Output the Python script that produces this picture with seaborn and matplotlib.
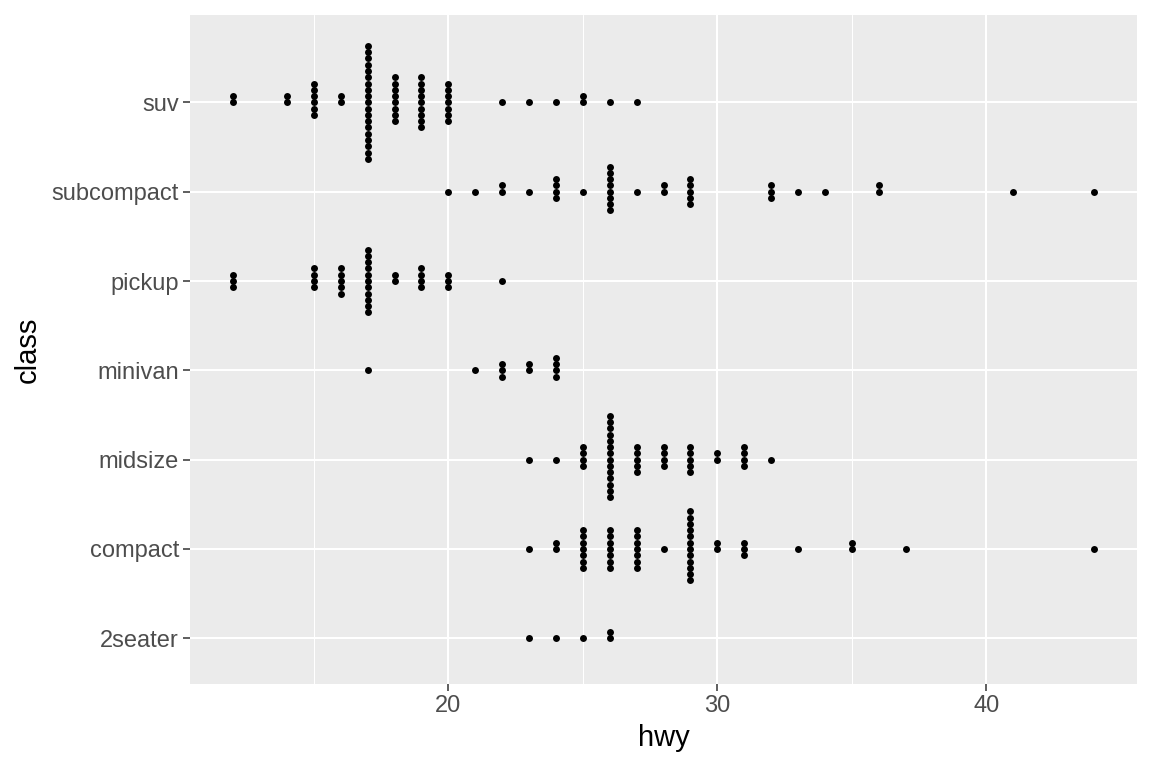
import numpy as np
import pandas as pd
import matplotlib
matplotlib.use("Agg")
import matplotlib.pyplot as plt
import seaborn as sns

# classes, bottom to top
classes = ["2seater", "compact", "midsize", "minivan", "pickup", "subcompact", "suv"]

# hwy values and how many cars sit at each value, per class
hwy_2seater = [23, 24, 25, 26]
cnt_2seater = [1, 1, 1, 2]

hwy_compact = [23, 24, 25, 26, 27, 28, 29, 30, 31, 33, 35, 37, 44]
cnt_compact = [1, 2, 7, 7, 7, 1, 12, 2, 3, 1, 2, 1, 1]

hwy_midsize = [23, 24, 25, 26, 27, 28, 29, 30, 31, 32]
cnt_midsize = [1, 1, 4, 14, 5, 4, 5, 2, 4, 1]

hwy_minivan = [17, 21, 22, 23, 24]
cnt_minivan = [1, 1, 3, 2, 4]

hwy_pickup = [12, 15, 16, 17, 18, 19, 20, 22]
cnt_pickup = [3, 4, 5, 11, 2, 4, 3, 1]

hwy_subcompact = [20, 21, 22, 23, 24, 25, 26, 27, 28, 29, 32, 33, 34, 36, 41, 44]
cnt_subcompact = [1, 1, 2, 1, 4, 1, 8, 1, 2, 5, 3, 1, 1, 2, 1, 1]

hwy_suv = [12, 14, 15, 16, 17, 18, 19, 20, 22, 23, 24, 25, 26, 27]
cnt_suv = [2, 2, 6, 2, 19, 8, 9, 7, 1, 1, 1, 2, 1, 1]

data = {
    "2seater": (hwy_2seater, cnt_2seater),
    "compact": (hwy_compact, cnt_compact),
    "midsize": (hwy_midsize, cnt_midsize),
    "minivan": (hwy_minivan, cnt_minivan),
    "pickup": (hwy_pickup, cnt_pickup),
    "subcompact": (hwy_subcompact, cnt_subcompact),
    "suv": (hwy_suv, cnt_suv),
}

# one row per dot, stacked "centerwhole" like ggplot's dotplot
step = 0.0702
rows = []
for i, cls in enumerate(classes):
    vals, counts = data[cls]
    for v, n in zip(vals, counts):
        for k in range(n):
            off = k - (n - 1) // 2
            rows.append({"class": cls, "hwy": v, "y": i + 1 + off * step})
df = pd.DataFrame(rows)

sns.set_theme(style="darkgrid", rc={
    "axes.facecolor": "#EBEBEB",
    "grid.color": "white",
})
plt.rcParams["font.family"] = ["Liberation Sans", "DejaVu Sans"]

fig = plt.figure(figsize=(11.52, 7.68), dpi=100)
ax = fig.add_axes([0.165, 0.109, 0.822, 0.871])

sns.scatterplot(data=df, x="hwy", y="y", color="black", s=25,
                linewidth=0, ax=ax, zorder=3)

ax.set_xlim(10.4, 45.6)
ax.set_ylim(0.485, 7.974)
ax.set_xticks([20, 30, 40])
ax.set_xticks([15, 25, 35], minor=True)
ax.set_yticks(range(1, len(classes) + 1))
ax.set_yticklabels(classes)

ax.grid(which="major", color="white", linewidth=1.5)
ax.grid(which="minor", axis="x", color="white", linewidth=0.75)
ax.tick_params(which="major", bottom=True, left=True, length=5, width=1.1,
               color="#333333", labelcolor="#4D4D4D", labelsize=17, pad=3)
ax.tick_params(which="minor", bottom=False, left=False, length=0)
for s in ax.spines.values():
    s.set_visible(False)

ax.set_xlabel("hwy", fontsize=21, color="black", labelpad=5)
ax.set_ylabel("class", fontsize=21, color="black", labelpad=7)

fig.savefig("out.png", dpi=100)
